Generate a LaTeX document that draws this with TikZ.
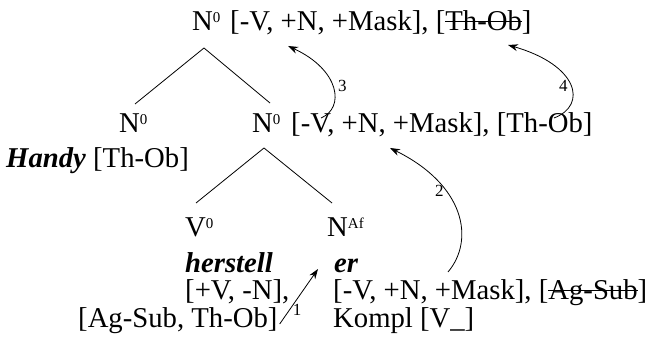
\documentclass[tikz,border=0pt]{standalone}
\usepackage{fontspec}
\setmainfont{Liberation Serif}
\usetikzlibrary{arrows.meta,calc}
% struck-out feature
\newcommand\strk[1]{\setbox0\hbox{#1}\rlap{\rule[9.5pt]{\wd0}{0.9pt}}\box0}
% raised index on category labels
\newcommand\hi[1]{\raisebox{8.5pt}{\fontsize{15}{15}\selectfont #1}}
\newcommand\bi[1]{\textbf{\textit{#1}}}
\begin{document}
\begin{tikzpicture}[x=1pt,y=-1pt,
  txt/.style={anchor=base west,inner sep=0pt,font=\fontsize{28.7}{33}\selectfont},
  num/.style={anchor=base west,inner sep=0pt,font=\fontsize{17}{17}\selectfont},
  branch/.style={line width=0.8pt},
  move/.style={line width=0.8pt,-{Stealth[length=10pt,width=7pt]}}]
\useasboundingbox (0,0) rectangle (650,352);

% top projection
\node[txt] (topN) at (192,31) {N\hi{0}};
\node[txt] (topF) at (230,31) {[-V, +N, +Mask], [\strk{Th-Ob}]};

% second level
\node[txt] (lN) at (119,133) {N\hi{0}};
\node[txt] (rN) at (252,133) {N\hi{0}};
\node[txt] (rF) at (291,133) {[-V, +N, +Mask], [Th-Ob]};
\node[txt] (handy) at (6,168) {\bi{Handy} [Th-Ob]};

% stem and suffix
\node[txt] (vN) at (185,237) {V\hi{0}};
\node[txt] (afN) at (327,237) {N\hi{Af}};
\node[txt] (stem) at (185,273) {\bi{herstell}};
\node[txt] (suffix) at (334,273) {\bi{er}};
\node[txt] (stemA) at (185,300) {[+V, -N],};
\node[txt] (stemB) at (78,327) {[Ag-Sub, Th-Ob]};
\node[txt] (sufA) at (333,300) {[-V, +N, +Mask], [\strk{Ag-Sub}]};
\node[txt] (sufB) at (333,327) {Kompl [V\_]};

% branches
\coordinate (apex1) at ($(topN.base west)+(12,17)$);
\coordinate (apex2) at ($(rN.base west)+(12,15)$);
\draw[branch] (apex1) -- ($(lN.base west)+(16,-29)$);
\draw[branch] (apex1) -- ($(rN.base west)+(18,-30)$);
\draw[branch] (apex2) -- ($(vN.base west)+(11,-34)$);
\draw[branch] (apex2) -- ($(afN.base west)+(5,-34)$);

% feature percolation
\coordinate (t1) at ($(stemB.base east)+(2,-3)$);
\coordinate (t2) at (448,272);
\coordinate (t3) at (321,118);
\coordinate (t4) at (554,118);
\draw[move] (t1) -- ($(suffix.base west)+(-16,-4)$);
\draw[move] (t2) .. controls (475,240) and (465,185) .. ($(rF.base west)+(99,15)$);
\draw[move] (t3) .. controls (345,108) and (340,70) .. ($(topF.base west)+(58,15)$);
\draw[move] (t4) .. controls (588,105) and (578,65) .. ($(topF.base west)+(278,14)$);

\node[num] (n1) at ($(stemB.base east)+(15,-11)$) {1};
\node[num] (n2) at (435,197) {2};
\node[num] (n3) at (338,92) {3};
\node[num] (n4) at (559,92) {4};
\end{tikzpicture}
\end{document}
